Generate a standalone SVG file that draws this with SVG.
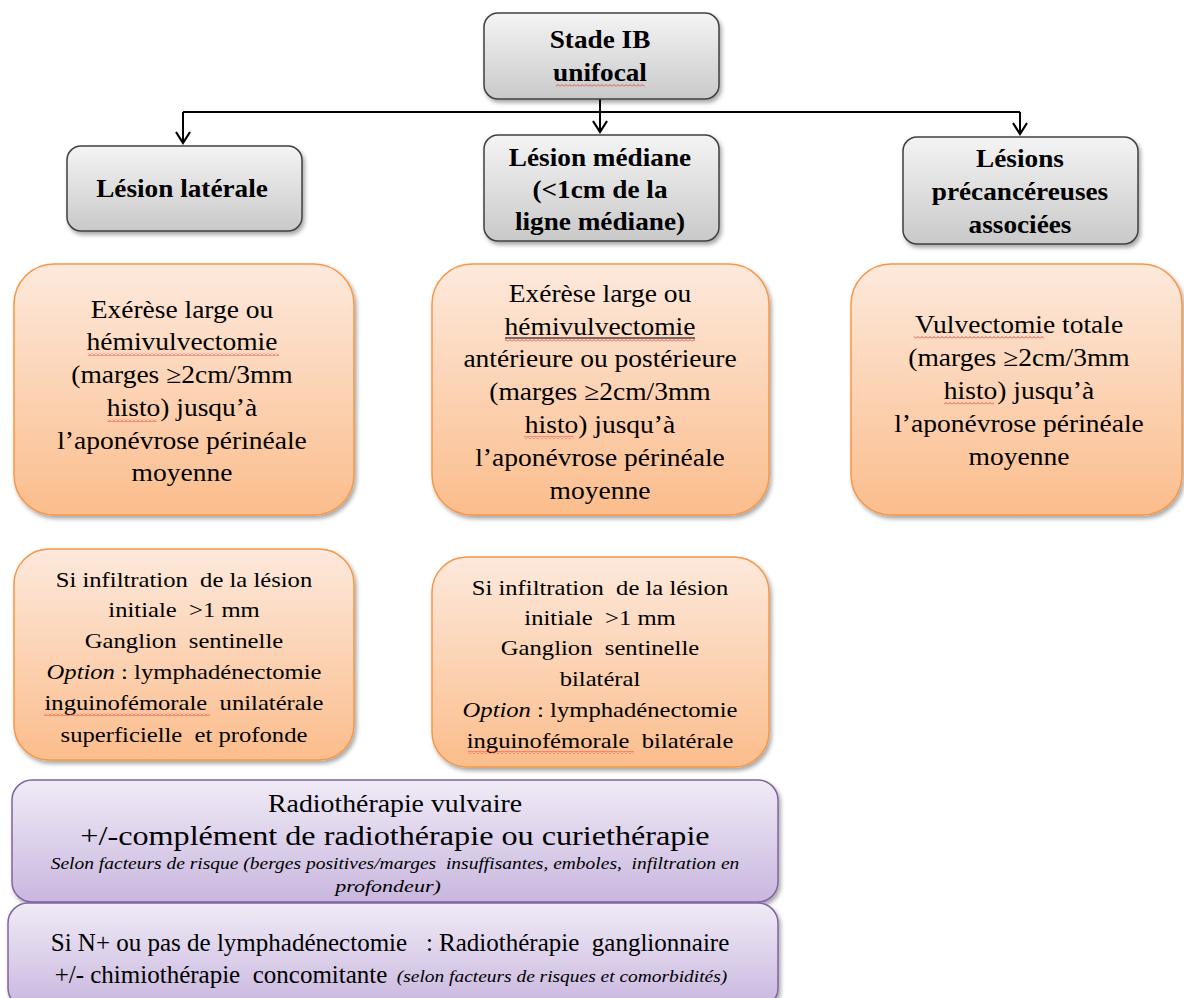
<svg xmlns="http://www.w3.org/2000/svg" width="1184" height="998" viewBox="0 0 1184 998">
<defs>
<linearGradient id="gGray" x1="0" y1="0" x2="0" y2="1"><stop offset="0" stop-color="#f4f4f4"/><stop offset="1" stop-color="#c9c9c9"/></linearGradient>
<linearGradient id="gOrange" x1="0" y1="0" x2="0" y2="1"><stop offset="0" stop-color="#fde9dc"/><stop offset="1" stop-color="#fbbd8c"/></linearGradient>
<linearGradient id="gPurple" x1="0" y1="0" x2="0" y2="1"><stop offset="0" stop-color="#f0ebf6"/><stop offset="1" stop-color="#c9b7df"/></linearGradient>
<filter id="sh" x="-10%" y="-10%" width="125%" height="130%"><feDropShadow dx="2" dy="3" stdDeviation="2" flood-color="#000" flood-opacity="0.35"/></filter>
<pattern id="wave" width="4" height="3" patternUnits="userSpaceOnUse"><polyline points="0,2.5 2,0.5 4,2.5" fill="none" stroke="#e03030" stroke-width="0.8"/></pattern>
<style>
.gray{fill:url(#gGray);stroke:#404040;stroke-width:1.5;filter:url(#sh)}
.orange{fill:url(#gOrange);stroke:#f79646;stroke-width:1.5;filter:url(#sh)}
.purple{fill:url(#gPurple);stroke:#8064a2;stroke-width:1.5;filter:url(#sh)}
text{font-family:'Liberation Serif',serif;fill:#000;text-anchor:middle;white-space:pre}
.h{font-weight:bold;font-size:25px}
.o1{font-size:25px}
.o2{font-size:22px}
.it{font-style:italic;font-size:17.5px}
.con{fill:none;stroke:#000;stroke-width:2}
.ah{fill:none;stroke:#000;stroke-width:2.2}
</style>
</defs>

<g id="connectors">
<path class="con" d="M600,99 V112 M183,112 H1020"/>
<path class="con" d="M183,112 V143"/>
<path class="con" d="M600,112 V132"/>
<path class="con" d="M1020,112 V134"/>
<path class="ah" d="M176,132 L183,143 L190,132"/>
<path class="ah" d="M593,121 L600,132 L607,121"/>
<path class="ah" d="M1013,123 L1020,134 L1027,123"/>
</g>

<g id="stade">
<rect class="gray" x="484" y="13" width="235" height="86" rx="14"/>
<g transform="translate(600,0) scale(1.09,1)">
<text class="h" x="0" y="48">Stade IB</text>
<text class="h" x="0" y="81">unifocal</text>
</g>
<rect x="556" y="84" width="89" height="3" fill="url(#wave)"/>
</g>

<g id="lesion-laterale">
<rect class="gray" x="67" y="146" width="235" height="85" rx="14"/>
<g transform="translate(182,0) scale(1.09,1)">
<text class="h" x="0" y="197">Lésion latérale</text>
</g>
</g>

<g id="lesion-mediane">
<rect class="gray" x="484" y="135" width="235" height="106" rx="14"/>
<g transform="translate(600,0) scale(1.09,1)">
<text class="h" x="0" y="166">Lésion médiane</text>
<text class="h" x="0" y="198">(&lt;1cm de la</text>
<text class="h" x="0" y="230">ligne médiane)</text>
</g>
</g>

<g id="lesions-precancereuses">
<rect class="gray" x="903" y="137" width="235" height="107" rx="14"/>
<g transform="translate(1020,0) scale(1.09,1)">
<text class="h" x="0" y="167">Lésions</text>
<text class="h" x="0" y="200">précancéreuses</text>
<text class="h" x="0" y="233">associées</text>
</g>
</g>

<g id="exerese-laterale">
<rect class="orange" x="14" y="264" width="340" height="251" rx="40"/>
<g transform="translate(182,0) scale(1.1,1)">
<text class="o1" x="0" y="318">Exérèse large ou</text>
<text class="o1" x="0" y="350">hémivulvectomie</text>
<text class="o1" x="0" y="383">(marges ≥2cm/3mm</text>
<text class="o1" x="0" y="416">histo) jusqu’à</text>
<text class="o1" x="0" y="449">l’aponévrose périnéale</text>
<text class="o1" x="0" y="481">moyenne</text>
</g>
<rect x="88" y="353" width="191" height="3" fill="url(#wave)"/>
<rect x="107" y="419" width="50" height="3" fill="url(#wave)"/>
</g>

<g id="exerese-mediane">
<rect class="orange" x="432" y="264" width="337" height="251" rx="40"/>
<g transform="translate(600,0) scale(1.1,1)">
<text class="o1" x="0" y="302">Exérèse large ou</text>
<text class="o1" x="0" y="335">hémivulvectomie</text>
<text class="o1" x="0" y="367">antérieure ou postérieure</text>
<text class="o1" x="0" y="400">(marges ≥2cm/3mm</text>
<text class="o1" x="0" y="433">histo) jusqu’à</text>
<text class="o1" x="0" y="466">l’aponévrose périnéale</text>
<text class="o1" x="0" y="499">moyenne</text>
</g>
<line x1="505" y1="338" x2="695" y2="338" stroke="#000" stroke-width="1.2"/>
<rect x="505" y="339" width="190" height="3" fill="url(#wave)"/>
<rect x="524" y="436" width="50" height="3" fill="url(#wave)"/>
</g>

<g id="vulvectomie-totale">
<rect class="orange" x="851" y="264" width="331" height="251" rx="40"/>
<g transform="translate(1019,0) scale(1.1,1)">
<text class="o1" x="0" y="333">Vulvectomie totale</text>
<text class="o1" x="0" y="366">(marges ≥2cm/3mm</text>
<text class="o1" x="0" y="399">histo) jusqu’à</text>
<text class="o1" x="0" y="432">l’aponévrose périnéale</text>
<text class="o1" x="0" y="465">moyenne</text>
</g>
<rect x="914" y="336" width="130" height="3" fill="url(#wave)"/>
<rect x="944" y="402" width="50" height="3" fill="url(#wave)"/>
</g>

<g id="ganglion-lateral">
<rect class="orange" x="14" y="549" width="340" height="211" rx="35"/>
<g transform="translate(184,0) scale(1.12,1)">
<text class="o2" x="0" y="587">Si infiltration  de la lésion</text>
<text class="o2" x="0" y="617">initiale  &gt;1 mm</text>
<text class="o2" x="0" y="648">Ganglion  sentinelle</text>
<text class="o2" x="0" y="679"><tspan font-style="italic">Option</tspan> : lymphadénectomie</text>
<text class="o2" x="0" y="710">inguinofémorale  unilatérale</text>
<text class="o2" x="0" y="742">superficielle  et profonde</text>
</g>
<rect x="44" y="713" width="166" height="3" fill="url(#wave)"/>
</g>

<g id="ganglion-bilateral">
<rect class="orange" x="432" y="557" width="337" height="210" rx="35"/>
<g transform="translate(600,0) scale(1.12,1)">
<text class="o2" x="0" y="595">Si infiltration  de la lésion</text>
<text class="o2" x="0" y="625">initiale  &gt;1 mm</text>
<text class="o2" x="0" y="655">Ganglion  sentinelle</text>
<text class="o2" x="0" y="686">bilatéral</text>
<text class="o2" x="0" y="717"><tspan font-style="italic">Option</tspan> : lymphadénectomie</text>
<text class="o2" x="0" y="748">inguinofémorale  bilatérale</text>
</g>
<rect x="468" y="751" width="166" height="3" fill="url(#wave)"/>
</g>

<g id="radiotherapie-vulvaire">
<rect class="purple" x="12" y="780" width="766" height="122" rx="20"/>
<text transform="translate(395,812) scale(1.07,1)" x="0" y="0" font-size="26">Radiothérapie vulvaire</text>
<text transform="translate(395,845) scale(1.15,1)" x="0" y="0" font-size="28">+/-complément de radiothérapie ou curiethérapie</text>
<text class="it" transform="translate(395,869) scale(1.114,1)" x="0" y="0">Selon facteurs de risque (berges positives/marges  insuffisantes, emboles,  infiltration en</text>
<text class="it" transform="translate(388,892) scale(1.26,1)" x="0" y="0">profondeur)</text>
</g>

<g id="radiotherapie-ganglionnaire">
<rect class="purple" x="8" y="903" width="770" height="105" rx="20"/>
<text transform="translate(390,951)" x="0" y="0" font-size="25">Si N+ ou pas de lymphadénectomie   : Radiothérapie  ganglionnaire</text>
<text transform="translate(221,983)" x="0" y="0" font-size="25">+/- chimiothérapie  concomitante</text>
<text class="it" transform="translate(562,982) scale(1.11,1)" x="0" y="0">(selon facteurs de risques et comorbidités)</text>
</g>
</svg>
